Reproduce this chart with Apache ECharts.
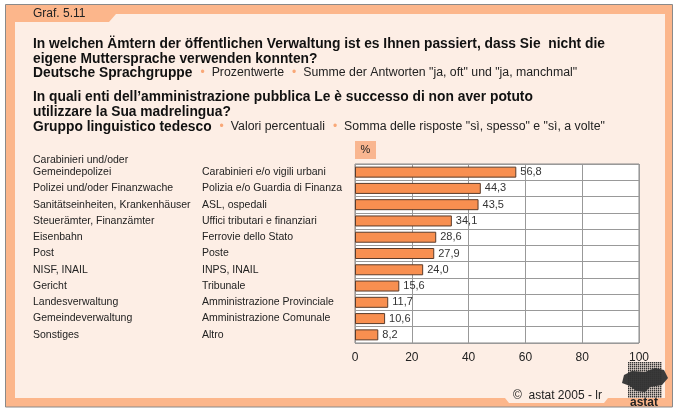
<!DOCTYPE html>
<html><head><meta charset="utf-8">
<script src="https://cdn.jsdelivr.net/npm/echarts@6/dist/echarts.min.js"></script>
<style>html,body{margin:0;padding:0;background:#fff}#c{width:678px;height:414px}</style>
</head><body><div id="c"></div>
<script>
// ---- data ----
const labelsDE = [
  'Carabinieri und/oder\nGemeindepolizei\n ',
  'Polizei und/oder Finanzwache',
  'Sanitätseinheiten, Krankenhäuser',
  'Steuerämter, Finanzämter',
  'Eisenbahn',
  'Post',
  'NISF, INAIL',
  'Gericht',
  'Landesverwaltung',
  'Gemeindeverwaltung',
  'Sonstiges'
];
const labelsIT = [
  'Carabinieri e/o vigili urbani',
  'Polizia e/o Guardia di Finanza',
  'ASL, ospedali',
  'Uffici tributari e finanziari',
  'Ferrovie dello Stato',
  'Poste',
  'INPS, INAIL',
  'Tribunale',
  'Amministrazione Provinciale',
  'Amministrazione Comunale',
  'Altro'
];
const values = [56.8, 44.3, 43.5, 34.1, 28.6, 27.9, 24.0, 15.6, 11.7, 10.6, 8.2];
const xTicks = [0, 20, 40, 60, 80, 100];

const FONT = '"Liberation Sans", Arial, Helvetica, sans-serif';
const SALMON = '#FCB68B';
const PEACH = '#FDEEE5';

// decorative logo texture
const logoEls = [];
for (let x = 628; x <= 660; x += 2) {
  for (let y = 362; y <= 396; y += 2) {
    logoEls.push({type:'rect', z:-5, silent:true, shape:{x:x, y:y, width:1.4, height:1.4}, style:{fill:'#333'}});
  }
}

const richStyles = {
  b:{font:'bold 13.8px ' + FONT, fill:'#111'},
  d:{font:'12px ' + FONT, fill:'#F9A878', padding:[0,7,0,8]},
  n:{font:'12.3px ' + FONT, fill:'#222'}
};

const chart = echarts.init(document.getElementById('c'), null, {renderer:'canvas'});
chart.setOption({
  animation: false,
  textStyle: {fontFamily: FONT},
  grid: {left: 355, top: 164, width: 284, height: 179, show: true,
         backgroundColor: '#fff', borderColor: '#888', borderWidth: 1, z: 0},
  xAxis: {
    type: 'value', min: xTicks[0], max: xTicks[xTicks.length - 1], interval: 20,
    axisLine: {show: false}, axisTick: {show: false},
    axisLabel: {margin: 9, fontSize: 12, color: '#222', fontFamily: FONT},
    splitLine: {show: true, lineStyle: {color: '#999', width: 1}}
  },
  yAxis: [
    {
      type: 'category', data: labelsDE, inverse: true, position: 'left',
      axisLine: {show: false}, axisTick: {show: false},
      axisLabel: {align: 'left', margin: 322, fontSize: 10.5, lineHeight: 12.5, color: '#222', fontFamily: FONT, interval: 0},
      splitLine: {show: true, lineStyle: {color: '#999', width: 1}}
    },
    {
      type: 'category', data: labelsIT, inverse: true, position: 'left',
      axisLine: {show: false}, axisTick: {show: false},
      axisLabel: {align: 'left', margin: 153, fontSize: 10.5, color: '#222', fontFamily: FONT, interval: 0},
      splitLine: {show: false}
    }
  ],
  series: [{
    type: 'bar', yAxisIndex: 0, data: values, barWidth: 11,
    itemStyle: {color: '#F88F50', borderColor: '#5a3b2a', borderWidth: 1},
    label: {show: true, position: 'right', distance: 4, fontSize: 11, color: '#333', fontFamily: FONT,
            formatter: p => p.value.toFixed(1).replace('.', ',')}
  }],
  graphic: {elements: [
    {type:'rect', z:-20, silent:true, shape:{x:5.5, y:4.5, width:667, height:402.5},
     style:{fill: SALMON, stroke:'#8a8a8a', lineWidth:1}},
    {type:'polygon', z:-19, silent:true,
     shape:{points:[[15,22],[109,22],[116,14],[665,14],[665,398],[608,398],[604,403],[509,403],[505,398],[15,398]]},
     style:{fill: PEACH}},
    {type:'text', z:-10, left:33, top:8, style:{text:'Graf. 5.11', font:'12px ' + FONT, fill:'#222'}},
    {type:'text', z:-10, left:33, top:37, style:{
      text:'In welchen Ämtern der öffentlichen Verwaltung ist es Ihnen passiert, dass Sie  nicht die\neigene Muttersprache verwenden konnten?',
      font:'bold 13.8px ' + FONT, fill:'#111', lineHeight:15}},
    {type:'text', z:-10, left:33, top:66, style:{
      text:'{b|Deutsche Sprachgruppe}{d|•}{n|Prozentwerte}{d|•}{n|Summe der Antworten "ja, oft" und "ja, manchmal"}',
      rich: richStyles}},
    {type:'text', z:-10, left:33, top:90, style:{
      text:'In quali enti dell\u2019amministrazione pubblica Le è successo di non aver potuto\nutilizzare la Sua madrelingua?',
      font:'bold 13.8px ' + FONT, fill:'#111', lineHeight:15}},
    {type:'text', z:-10, left:33, top:120, style:{
      text:'{b|Gruppo linguistico tedesco}{d|•}{n|Valori percentuali}{d|•}{n|Somma delle risposte "sì, spesso" e "sì, a volte"}',
      rich: richStyles}},
    {type:'rect', z:-10, silent:true, shape:{x:355, y:141, width:21, height:18}, style:{fill:'#F9B690'}},
    {type:'text', z:-9, x:365.5, y:150, style:{text:'%', font:'11px ' + FONT, fill:'#222', textAlign:'center', textVerticalAlign:'middle'}},
    {type:'text', z:-10, x:513, y:396, style:{text:'©  astat 2005 - lr', font:'12px ' + FONT, fill:'#222', textVerticalAlign:'middle'}},
    {type:'polygon', z:-6, silent:true,
     shape:{points:[[624,375],[632,371],[645,372],[655,368],[664,370],[668,378],[662,385],[650,387],[645,392],[636,391],[630,386],[622,383]]},
     style:{fill:'#3c3c3c'}},
    ...logoEls,
    {type:'text', z:-4, x:644, y:403, style:{text:'astat', font:'bold 12px ' + FONT, fill:'#222', textAlign:'center', textVerticalAlign:'middle'}}
  ]}
});
</script></body></html>
